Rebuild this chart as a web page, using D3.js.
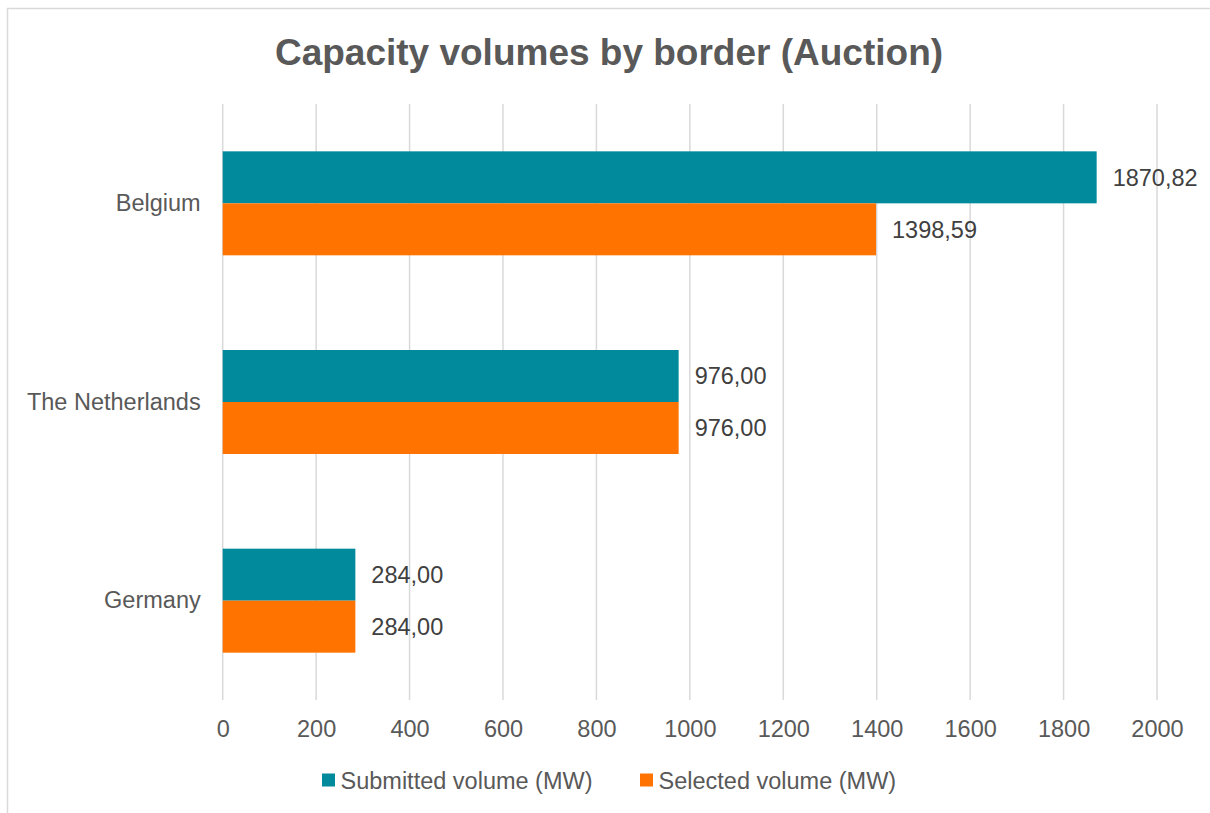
<!DOCTYPE html>
<html>
<head>
<meta charset="utf-8">
<script src="https://cdn.jsdelivr.net/npm/d3@7"></script>
<style>
  html, body { margin: 0; padding: 0; background: #fff; }
  svg { display: block; font-family: "Liberation Sans", Arial, sans-serif; }
</style>
</head>
<body>
<svg id="chart" width="1210" height="813"></svg>
<script>
const title = "Capacity volumes by border (Auction)";
const categories = ["Belgium", "The Netherlands", "Germany"];
const seriesNames = ["Submitted volume (MW)", "Selected volume (MW)"];
const submitted = [1870.82, 976.00, 284.00];
const selected = [1398.59, 976.00, 284.00];
const xTicks = [0, 200, 400, 600, 800, 1000, 1200, 1400, 1600, 1800, 2000];
const colors = ["#008A9B", "#FF7400"];

const svg = d3.select("#chart");
const W = 1210, H = 813;
const plot = { left: 222.7, right: 1157, top: 104, bottom: 700 };

// frame
svg.append("rect").attr("x", 7.5).attr("y", 8.5).attr("width", W + 20).attr("height", H + 20)
  .attr("fill", "#fff").attr("stroke", "#D9D9D9").attr("stroke-width", 1.5);

svg.append("text").attr("x", 609).attr("y", 65).attr("text-anchor", "middle")
  .attr("font-size", 37).attr("font-weight", "bold").attr("fill", "#595959").text(title);

const x = d3.scaleLinear().domain([0, 2000]).range([plot.left, plot.right]);
const y = d3.scaleBand().domain(categories).range([plot.top, plot.bottom])
  .paddingInner(0.4766).paddingOuter(0.2383);
const sub = d3.scaleBand().domain([0, 1]).range([0, y.bandwidth()]);

// gridlines
svg.append("g").selectAll("line").data(xTicks).join("line")
  .attr("x1", d => x(d)).attr("x2", d => x(d))
  .attr("y1", plot.top).attr("y2", plot.bottom)
  .attr("stroke", "#D9D9D9").attr("stroke-width", 1.5);

// x axis labels
const xAxis = d3.axisBottom(x).tickValues(xTicks).tickSize(0).tickPadding(0).tickFormat(d3.format("d"));
const gx = svg.append("g").attr("transform", `translate(0,${plot.bottom})`).call(xAxis);
gx.select(".domain").remove();
gx.selectAll("text").attr("font-size", 23.5).attr("fill", "#595959")
  .attr("font-family", "Liberation Sans, Arial, sans-serif")
  .attr("dy", null).attr("y", 37);

// y axis labels
const yAxis = d3.axisLeft(y).tickSize(0).tickPadding(22);
const gy = svg.append("g").attr("transform", `translate(${plot.left},0)`).call(yAxis);
gy.select(".domain").remove();
gy.selectAll("text").attr("font-size", 23.5).attr("fill", "#595959")
  .attr("font-family", "Liberation Sans, Arial, sans-serif");

const fmt = v => d3.format(".2f")(v).replace(".", ",");
const series = [submitted, selected];

series.forEach((vals, si) => {
  const g = svg.append("g");
  g.selectAll("rect").data(vals).join("rect")
    .attr("x", x(0))
    .attr("y", (d, i) => y(categories[i]) + sub(si))
    .attr("width", d => x(d) - x(0))
    .attr("height", sub.bandwidth())
    .attr("fill", colors[si]);
  g.selectAll("text").data(vals).join("text")
    .attr("x", d => x(d) + 16)
    .attr("y", (d, i) => y(categories[i]) + sub(si) + sub.bandwidth() / 2)
    .attr("dy", "0.35em")
    .attr("font-size", 23.5).attr("fill", "#404040")
    .text(d => fmt(d));
});

// legend
const legendItems = [{ name: seriesNames[0], x: 322 }, { name: seriesNames[1], x: 640 }];
const lg = svg.append("g");
legendItems.forEach((it, i) => {
  lg.append("rect").attr("x", it.x).attr("y", 773.5).attr("width", 13).attr("height", 13).attr("fill", colors[i]);
  lg.append("text").attr("x", it.x + 18.5).attr("y", 788.5).attr("font-size", 23.5).attr("fill", "#595959").text(it.name);
});
</script>
</body>
</html>
